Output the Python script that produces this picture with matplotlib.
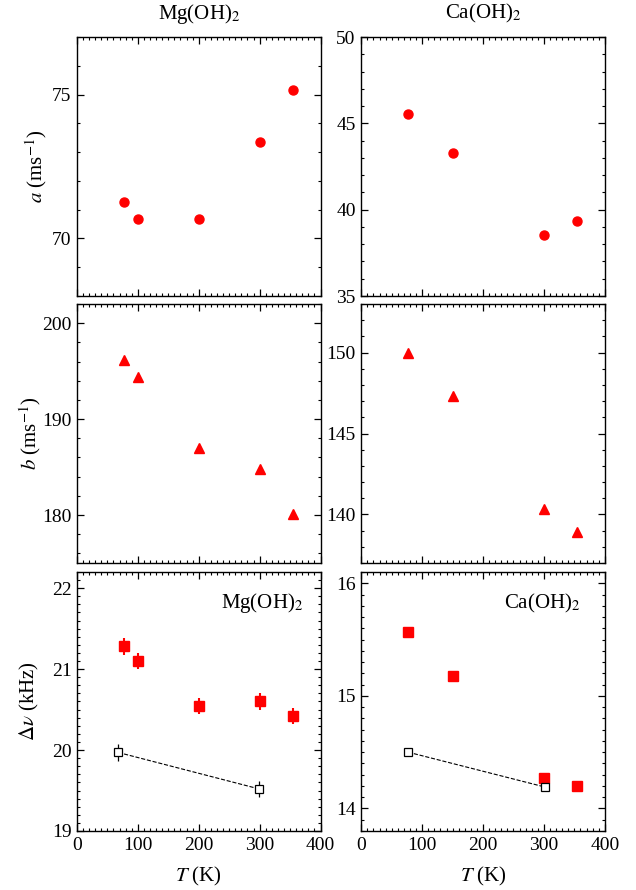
import matplotlib
matplotlib.use('Agg')
import matplotlib.pyplot as plt
from matplotlib.ticker import MultipleLocator

plt.rcParams['font.family'] = ['Liberation Serif', 'DejaVu Serif']
plt.rcParams['mathtext.fontset'] = 'stix'
plt.rcParams['font.size'] = 14

# Mg(OH)2
mg_T = [77, 100, 200, 300, 355]
mg_a = [71.25, 70.68, 70.68, 73.36, 75.17]
mg_b = [196.2, 194.4, 187.0, 184.8, 180.1]
mg_dv = [21.28, 21.10, 20.54, 20.60, 20.42]
mg_dv_err = [0.1, 0.1, 0.1, 0.1, 0.1]
mg_T_open = [68, 299]
mg_dv_open = [19.97, 19.52]
mg_dv_open_err = [0.1, 0.1]

# Ca(OH)2
ca_T = [77, 150, 300, 355]
ca_a = [45.54, 43.27, 38.56, 39.33]
ca_b = [150.0, 147.3, 140.33, 138.9]
ca_dv = [15.57, 15.18, 14.27, 14.20]
ca_T_open = [77, 302]
ca_dv_open = [14.50, 14.19]

fig = plt.figure(figsize=(6.36, 8.9), dpi=100)

lefts = [0.121, 0.568]
w = 0.383
bottoms = [0.6674, 0.3674, 0.0663]
h = 0.291

axes = [[fig.add_axes([l, b, w, h]) for l in lefts] for b in bottoms]

for row in axes:
    for ax in row:
        ax.set_xlim(0, 400)
        ax.xaxis.set_major_locator(MultipleLocator(100))
        ax.xaxis.set_minor_locator(MultipleLocator(10))
        ax.tick_params(which='both', direction='in', top=True, right=True, labelsize=14)
        ax.tick_params(which='major', length=5, width=0.9, pad=4)
        ax.tick_params(which='minor', length=2.5, width=0.8)
        for s in ax.spines.values():
            s.set_linewidth(1.0)
for row in axes[:2]:
    for ax in row:
        ax.tick_params(labelbottom=False)

red = '#ff0000'

# row 1: a
ax = axes[0][0]
ax.plot(mg_T, mg_a, 'o', color=red, ms=6.5, mec=red)
ax.set_ylim(68, 77)
ax.yaxis.set_major_locator(MultipleLocator(5))
ax.yaxis.set_minor_locator(MultipleLocator(1))
ax.set_ylabel(r'$a$ (ms$^{-1}$)', fontsize=15, labelpad=2)
ax.set_title(r'Mg(OH)$_2$', fontsize=15, pad=13)

ax = axes[0][1]
ax.plot(ca_T, ca_a, 'o', color=red, ms=6.5, mec=red)
ax.set_ylim(35, 50)
ax.yaxis.set_major_locator(MultipleLocator(5))
ax.yaxis.set_minor_locator(MultipleLocator(1))
ax.set_title(r'Ca(OH)$_2$', fontsize=15, pad=13)

# row 2: b
ax = axes[1][0]
ax.plot(mg_T, mg_b, '^', color=red, ms=7.5, mec=red)
ax.set_ylim(175, 202)
ax.yaxis.set_major_locator(MultipleLocator(10))
ax.yaxis.set_minor_locator(MultipleLocator(2))
ax.set_ylabel(r'$b$ (ms$^{-1}$)', fontsize=15, labelpad=-1)

ax = axes[1][1]
ax.plot(ca_T, ca_b, '^', color=red, ms=7.5, mec=red)
ax.set_ylim(137, 153)
ax.yaxis.set_major_locator(MultipleLocator(5))
ax.yaxis.set_minor_locator(MultipleLocator(1))

# row 3: linewidth
ax = axes[2][0]
ax.errorbar(mg_T, mg_dv, yerr=mg_dv_err, fmt='s', color=red, ms=7, mec=red,
            elinewidth=1.5, capsize=0)
ax.plot(mg_T_open, mg_dv_open, '--', color='black', lw=0.8)
ax.errorbar(mg_T_open, mg_dv_open, yerr=mg_dv_open_err, fmt='s', color='black',
            mfc='white', mec='black', ms=6, mew=0.9, elinewidth=0.9, capsize=0)
ax.set_ylim(19, 22.2)
ax.yaxis.set_major_locator(MultipleLocator(1))
ax.yaxis.set_minor_locator(MultipleLocator(0.1))
ax.set_ylabel(r'$\Delta\nu$ (kHz)', fontsize=15, labelpad=8)
ax.set_xlabel(r'$T$ (K)', fontsize=15, labelpad=8)
ax.text(0.93, 0.88, r'Mg(OH)$_2$', transform=ax.transAxes, ha='right', va='center', fontsize=15)

ax = axes[2][1]
ax.plot(ca_T, ca_dv, 's', color=red, ms=7, mec=red)
ax.plot(ca_T_open, ca_dv_open, '--', color='black', lw=0.8)
ax.plot(ca_T_open, ca_dv_open, 's', mfc='white', mec='black', ms=6, mew=0.9)
ax.set_ylim(13.8, 16.1)
ax.yaxis.set_major_locator(MultipleLocator(1))
ax.yaxis.set_minor_locator(MultipleLocator(0.1))
ax.set_xlabel(r'$T$ (K)', fontsize=15, labelpad=8)
ax.text(0.90, 0.88, r'Ca(OH)$_2$', transform=ax.transAxes, ha='right', va='center', fontsize=15)

fig.savefig('out.png', dpi=100)
